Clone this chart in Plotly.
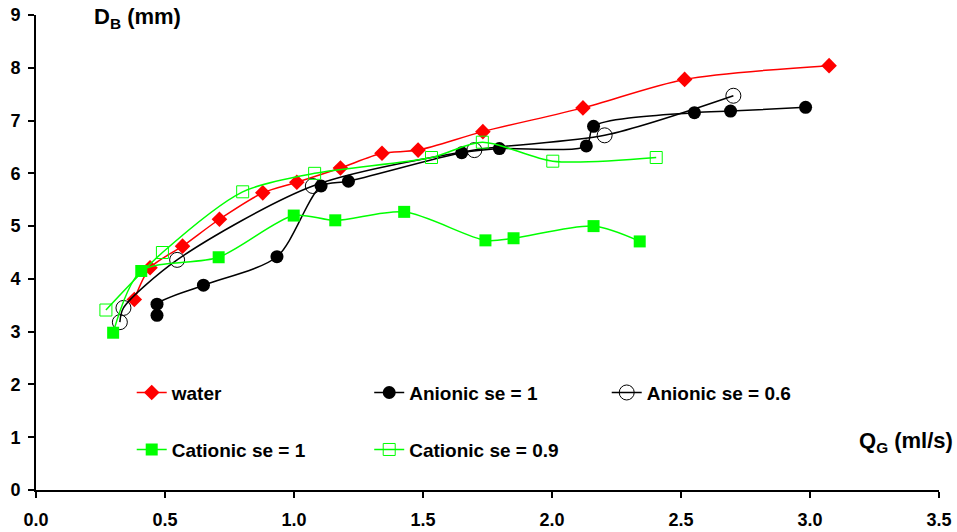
import plotly.graph_objects as go

# ---- data ----
water_x = [0.381, 0.442, 0.568, 0.711, 0.879, 1.011, 1.180, 1.341, 1.481, 1.732, 2.120, 2.514, 3.074]
water_y = [3.61, 4.21, 4.62, 5.13, 5.63, 5.83, 6.10, 6.38, 6.44, 6.79, 7.24, 7.78, 8.04]

an1_x = [0.469, 0.469, 0.649, 0.934, 1.105, 1.211, 1.650, 1.796, 2.133, 2.161, 2.552, 2.692, 2.983]
an1_y = [3.31, 3.52, 3.88, 4.42, 5.76, 5.85, 6.39, 6.47, 6.52, 6.89, 7.15, 7.18, 7.25]

an06_x = [0.325, 0.339, 0.547, 1.073, 1.699, 2.204, 2.703]
an06_y = [3.18, 3.45, 4.36, 5.76, 6.44, 6.72, 7.47]

cat1_x = [0.299, 0.408, 0.708, 0.999, 1.160, 1.427, 1.742, 1.851, 2.161, 2.340]
cat1_y = [2.98, 4.15, 4.41, 5.20, 5.11, 5.27, 4.73, 4.77, 5.00, 4.71]

cat09_x = [0.271, 0.490, 0.801, 1.080, 1.533, 1.730, 2.003, 2.404]
cat09_y = [3.41, 4.50, 5.65, 6.00, 6.30, 6.59, 6.23, 6.30]

x_ticks = [0.0, 0.5, 1.0, 1.5, 2.0, 2.5, 3.0, 3.5]
x_tick_labels = ["0.0", "0.5", "1.0", "1.5", "2.0", "2.5", "3.0", "3.5"]
y_ticks = [0, 1, 2, 3, 4, 5, 6, 7, 8, 9]

FONT = "Liberation Sans, Arial, sans-serif"
RED = "#FF0000"
GREEN = "#00FF00"

fig = go.Figure()

def add(x, y, name, color, symbol, size, legend, mline=None, mfill=None):
    marker = dict(symbol=symbol, size=size, color=mfill if mfill else color)
    if mline:
        marker["line"] = dict(color=mline, width=1.5)
    fig.add_trace(go.Scatter(
        x=x, y=y, name=name, mode="lines+markers",
        line=dict(color=color, width=1.5, shape="spline", smoothing=0.8),
        marker=marker, legend=legend))

add(water_x, water_y, "water", RED, "diamond", 12, "legend")
add(an1_x, an1_y, "Anionic se = 1", "black", "circle", 13, "legend")
add(an06_x, an06_y, "Anionic se = 0.6", "black", "circle-open", 15, "legend")
add(cat1_x, cat1_y, "Cationic se = 1", GREEN, "square", 12, "legend2")
add(cat09_x, cat09_y, "Cationic se = 0.9", GREEN, "square-open", 12, "legend2")

leg_common = dict(orientation="h", xanchor="left", yanchor="middle",
                  bgcolor="rgba(0,0,0,0)", borderwidth=0,
                  font=dict(family=FONT, size=19, color="black", weight="bold"),
                  entrywidth=192.5, entrywidthmode="pixels", itemwidth=30)

fig.update_layout(
    width=957, height=532,
    margin=dict(l=36, r=18, t=15, b=42, autoexpand=False),
    plot_bgcolor="white", paper_bgcolor="white",
    font=dict(family=FONT, color="black"),
    legend=dict(x=0.106, y=0.205, **leg_common),
    legend2=dict(x=0.106, y=0.085, **leg_common),
    xaxis=dict(range=[0, 3.5], tickvals=x_ticks, ticktext=x_tick_labels,
               showline=True, linecolor="black", linewidth=1.5,
               ticks="outside", ticklen=6, tickwidth=1.5, tickcolor="black",
               showgrid=False, zeroline=False, ticklabelstandoff=7, automargin=False,
               tickfont=dict(family=FONT, size=18, color="black", weight="bold")),
    yaxis=dict(range=[0, 9], tickvals=y_ticks,
               showline=True, linecolor="black", linewidth=2,
               ticks="outside", ticklen=6, tickwidth=1.5, tickcolor="black",
               showgrid=False, zeroline=False, ticklabelstandoff=4, automargin=False,
               tickfont=dict(family=FONT, size=18, color="black", weight="bold")),
    annotations=[
        dict(text="Q<sub>G</sub> (ml/s)", xref="paper", yref="paper",
             x=1.0177, y=0.102, xanchor="right", yanchor="middle", showarrow=False,
             font=dict(family=FONT, size=22, color="black", weight="bold")),
        dict(text="D<sub>B</sub> (mm)", xref="paper", yref="paper",
             x=0.062, y=0.9937, xanchor="left", yanchor="middle", showarrow=False,
             font=dict(family=FONT, size=22, color="black", weight="bold")),
    ],
)

fig.write_html("out.html")
